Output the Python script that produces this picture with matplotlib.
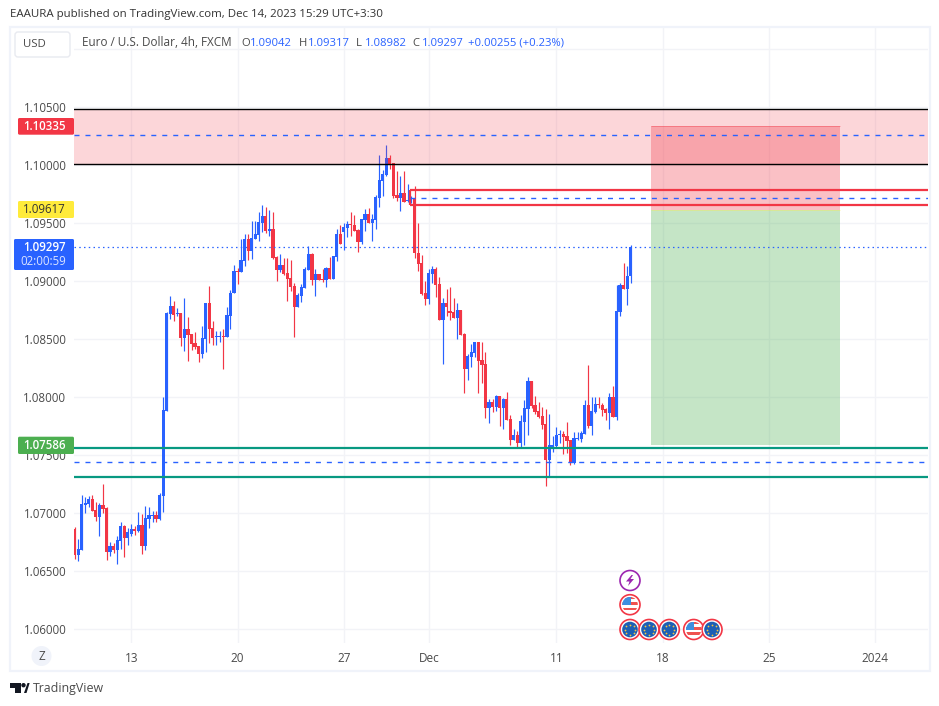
import numpy as np
import matplotlib
matplotlib.use("Agg")
import matplotlib.pyplot as plt
from matplotlib.patches import Rectangle, FancyBboxPatch, Circle, Polygon

plt.rcParams["font.family"] = ["Open Sans", "DejaVu Sans"]

W, H = 939, 706

# 4h candles, prices in 1e-5 units
opens = [106865,106640,106684,107072,107080,107120,107028,106968,107072,107046,
         106666,106718,106684,106761,106891,106787,106822,106865,106847,106899,
         106718,106951,106977,106985,106951,107149,107882,108718,108787,108718,
         108727,108511,108589,108546,108468,108442,108373,108503,108813,108597,
         108517,108520,108528,108520,108704,108896,109089,109080,109175,109365,
         109261,109365,109399,109502,109563,109434,109451,109209,109097,109140,
         109071,109028,108959,108778,108873,108942,109097,109235,109011,109063,
         109020,109011,109115,109020,109209,109408,109425,109459,109494,109485,
         109442,109339,109528,109580,109502,109528,109718,109865,109916,110063,
         110020,109744,109718,109761,109692,109709,109718,109247,109158,108899,
         108847,109063,109106,108977,108666,108813,108744,108735,108684,108753,
         108546,108244,108347,108382,108477,108321,108287,107908,107959,107916,
         108011,107908,107985,107813,107632,107675,107606,107787,107899,108140,
         107933,107882,107839,107770,107459,107571,107580,107675,107683,107666,
         107632,107433,107640,107640,107683,107933,107752,107873,107942,107933,
         107899,107864,108002,107830,108735,108968,108933,109042]
highs = [106879,106778,107158,107143,107149,107158,107097,107089,107253,107054,
         106753,106744,106804,106925,106899,106873,106908,106891,107011,106994,
         107063,107054,107020,107020,107175,108003,108735,108873,108830,108770,
         108727,108856,108692,108546,108563,108442,108615,108813,108960,108658,
         108572,108572,108589,108778,108925,109140,109115,109365,109408,109408,
         109520,109520,109597,109658,109640,109615,109597,109218,109235,109201,
         109201,109184,108985,108899,108977,109123,109304,109244,109106,109063,
         109106,109123,109209,109218,109451,109485,109502,109520,109597,109571,
         109451,109537,109623,109632,109580,109744,110089,109959,110175,110089,
         110020,109951,109908,109951,109839,109735,109821,109503,109227,109003,
         109106,109132,109123,109037,108856,108934,108951,108856,108813,108753,
         108554,108373,108459,108477,108477,108477,108390,107985,107985,108020,
         108011,107994,108045,107847,107726,107709,107847,107976,108175,108140,
         108011,107959,107916,107899,107856,107666,107744,107718,107709,107787,
         107632,107701,107701,107709,107976,108278,108002,108002,108002,107951,
         107908,108037,108097,108968,108985,109158,109132,109317]
lows = [106609,106592,106684,107005,107057,107023,106934,106804,107003,106597,
        106632,106658,106563,106692,106623,106727,106804,106813,106839,106649,
        106684,106873,106925,106925,106942,107011,107882,108675,108658,108701,
        108442,108399,108313,108408,108416,108304,108339,108391,108468,108451,
        108451,108477,108244,108520,108592,108896,108977,109080,109132,109184,
        109192,109365,109347,109425,109416,109390,109192,109002,109080,109054,
        108830,108916,108520,108778,108821,108942,109097,108968,108873,109011,
        108994,108951,109020,109020,109175,109321,109270,109382,109390,109434,
        109252,109321,109434,109502,109347,109451,109640,109735,109908,109968,
        109718,109692,109606,109684,109684,109672,109201,109089,108882,108796,
        108804,108985,108865,108666,108287,108701,108666,108684,108503,108537,
        108037,108149,108261,108347,108037,108123,107821,107778,107873,107882,
        107752,107726,107804,107589,107632,107571,107571,107589,107675,107908,
        107856,107821,107726,107235,107321,107528,107571,107606,107511,107520,
        107416,107425,107632,107614,107683,107735,107675,107864,107908,107839,
        107804,107726,107830,107804,108701,108933,108795,108982]
closes = [106640,106689,107080,107086,107120,107023,106968,107072,107037,106666,
          106718,106684,106770,106891,106787,106839,106862,106847,106899,106718,
          106959,106985,106985,106951,107158,107891,108727,108787,108709,108727,
          108511,108589,108537,108459,108434,108373,108511,108813,108589,108511,
          108528,108528,108520,108709,108896,109089,109080,109184,109365,109261,
          109373,109408,109511,109563,109434,109451,109201,109097,109140,109063,
          109020,108951,108778,108882,108951,109106,109235,109011,109063,109011,
          109011,109115,109020,109218,109408,109321,109468,109494,109485,109434,
          109339,109537,109580,109502,109537,109727,109873,109925,110063,110011,
          109735,109718,109761,109684,109701,109718,109247,109149,108890,108847,
          109071,109106,108968,108666,108813,108778,108727,108684,108753,108537,
          108244,108356,108390,108477,108313,108278,107908,107959,107916,108011,
          107908,107985,107804,107632,107675,107606,107795,107908,108140,107925,
          107873,107830,107761,107459,107589,107589,107675,107683,107657,107623,
          107442,107649,107649,107692,107933,107752,107882,107942,107933,107890,
          107864,108002,107830,108744,108968,108933,109045,109297]

# time axis
date_bars = [17, 47, 77, 101, 137, 167, 197, 227]
date_labels = ["13", "20", "27", "Dec", "11", "18", "25", "2024"]

# price axis
price_ticks = [1.06, 1.065, 1.07, 1.075, 1.08, 1.085, 1.09, 1.095, 1.10, 1.105, 1.11]
price_labels = ["1.06000", "1.06500", "1.07000", "1.07500", "1.08000", "1.08500",
                "1.09000", "1.09500", "1.10000", "1.10500", ""]

# drawings
supply_zone = (1.10009, 1.10483)
supply_mid = 1.10257
demand_zone = (1.07313, 1.07563)
demand_mid = 1.07440
box_zone = (1.09662, 1.09783)
box_mid = 1.09714
box_start = 95.7
stop_price = 1.10335
entry_price = 1.09617
target_price = 1.07586
last_price = 1.09297
pos_start, pos_end = 163.85, 217.2

UP = "#2962ff"
DOWN = "#f23645"
GRID = "#f2f3f7"
TEXT = "#4a4a4a"


def bar_at(px):
    return 17 + (px - 131.3) / 3.5417


def price_at(py):
    return 1.06 + (629.3 - py) / 11600


fig = plt.figure(figsize=(W / 100, H / 100), dpi=100, facecolor="white")

# chart pane, 74..928 x 28..643 in picture pixels
ax = fig.add_axes([74 / W, 1 - 643 / H, (928 - 74) / W, (643 - 28) / H])
ax.set_xlim(bar_at(74), bar_at(928))
ax.set_ylim(price_at(643), price_at(28))
for s in ax.spines.values():
    s.set_visible(False)
ax.set_axisbelow(True)
ax.grid(True, color=GRID, lw=1)
ax.set_xticks(date_bars)
ax.set_xticklabels(date_labels, fontsize=8.5, color=TEXT)
ax.set_yticks(price_ticks)
ax.set_yticklabels(price_labels, fontsize=8.3, color=TEXT)
ax.tick_params(axis="x", length=0, pad=6.2)
ax.tick_params(axis="y", length=0, pad=5.5)

# candles
o = np.array(opens) / 1e5
h = np.array(highs) / 1e5
l = np.array(lows) / 1e5
c = np.array(closes) / 1e5
bars = np.arange(1, len(o) + 1)
cols = np.where(c >= o, UP, DOWN)
ax.vlines(bars, l, h, colors=cols, lw=0.85, zorder=3)
ax.bar(bars, np.maximum(np.abs(c - o), 0.00009), bottom=np.minimum(o, c), width=0.9,
       color=cols, lw=0, zorder=4, antialiased=False)

# drawings sit on top of the candles
ax.axhspan(supply_zone[0], supply_zone[1], color=DOWN, alpha=0.2, lw=0, zorder=5)
ax.axhline(supply_zone[0], color="black", lw=1.0, zorder=6)
ax.axhline(supply_zone[1], color="black", lw=1.0, zorder=6)
dash = (0, (3.6, 4.3))
ax.axhline(supply_mid, color=UP, lw=1.0, ls=dash, zorder=8)

ax.axhline(demand_zone[0], color="#089981", lw=1.6, zorder=6)
ax.axhline(demand_zone[1], color="#089981", lw=1.6, zorder=6)
ax.axhline(demand_mid, color=UP, lw=1.0, ls=dash, zorder=6)

ax.hlines(box_zone, box_start, bar_at(928), color=DOWN, lw=1.6, zorder=7)
ax.vlines(box_start, box_zone[0], box_zone[1], color=DOWN, lw=1.6, zorder=7)
ax.hlines(box_mid, box_start, bar_at(928), color=UP, lw=1.0, ls=dash, zorder=7)

ax.axhline(last_price, color=UP, lw=0.9, ls=(0, (1.2, 2.6)), zorder=6)

# long/short position tool
ax.add_patch(Rectangle((pos_start, entry_price), pos_end - pos_start, stop_price - entry_price,
                       fc=DOWN, alpha=0.31, lw=0, zorder=5))
ax.add_patch(Rectangle((pos_start, target_price), pos_end - pos_start, entry_price - target_price,
                       fc="#4caf50", alpha=0.32, lw=0, zorder=5))
ax.hlines(stop_price, pos_start, pos_end, color=DOWN, lw=0.7, alpha=0.4, zorder=5)
ax.hlines(entry_price, pos_start, pos_end, color="#ffeb3b", lw=0.6, alpha=0.4, zorder=5)

# overlay in picture pixels for the chart furniture
ui = fig.add_axes([0, 0, 1, 1], facecolor="none")
ui.set_xlim(0, W)
ui.set_ylim(H, 0)
ui.axis("off")

ui.add_patch(Rectangle((10, 27), 920, 643.5, fc="none", ec="#f0f3fa", lw=1.6))

ui.text(10, 15, "EAAURA published on TradingView.com, Dec 14, 2023 15:29 UTC+3:30",
        fontsize=8.27, color="#333333", va="center")

# USD button
ui.add_patch(FancyBboxPatch((15, 32), 55, 25, boxstyle="round,pad=0,rounding_size=3",
                            fc="white", ec="#e8eaf0", lw=1))
ui.text(34, 44.5, "USD", fontsize=8.2, color=TEXT, ha="center", va="center")

# legend row
ui.text(82, 45.5, "Euro / U.S. Dollar, 4h, FXCM", fontsize=8.5, color=TEXT, va="baseline")
legend_parts = [("O", 241, TEXT), ("1.09042", 250, UP), ("H", 298.5, TEXT), ("1.09317", 308, UP),
                ("L", 356, TEXT), ("1.08982", 365, UP), ("C", 412, TEXT), ("1.09297", 422, UP),
                ("+0.00255 (+0.23%)", 468, UP)]
for txt, xp, col in legend_parts:
    ui.text(xp, 45.5, txt, fontsize=8.1, color=col, va="baseline")


def price_tag(x0, y0, y1, col, txt, tcol="white"):
    ui.add_patch(FancyBboxPatch((x0, y0), 74 - x0, y1 - y0, boxstyle="round,pad=0,rounding_size=1.5",
                                fc=col, lw=0))
    ui.text(66, (y0 + y1) / 2, txt, fontsize=8.3, color=tcol, ha="right", va="center",
            fontweight="semibold" if tcol == "white" else "normal")


price_tag(18, 118, 134.7, "#f23645", "1.10335")
price_tag(18, 201, 218, "#ffeb3b", "1.09617", "#333333")
price_tag(18, 436.7, 454, "#4caf50", "1.07586")
price_tag(14, 239, 270, UP, "")
ui.text(66, 247.5, "1.09297", fontsize=8.3, color="white", ha="right", va="center", fontweight="semibold")
ui.text(66, 261.5, "02:00:59", fontsize=8.3, color="#dbe4ff", ha="right", va="center")

# Z button
ui.add_patch(Circle((41.5, 656), 10, fc="#f0f3fa", lw=0))
ui.text(41.5, 656, "Z", fontsize=8.4, color=TEXT, ha="center", va="center")

# TradingView logo
ui.add_patch(Polygon([(10, 683), (21, 683), (21, 693), (15, 693), (15, 688), (10, 688)], fc="#131722", lw=0))
ui.add_patch(Circle((23.5, 685.2), 2.2, fc="#131722", lw=0))
ui.add_patch(Polygon([(24, 693), (27.5, 683), (29.5, 683), (29.5, 683.5), (26.5, 693)], fc="#131722", lw=0))
ui.text(33, 688.5, "TradingView", fontsize=8.95, color="#4a4a4a", va="center")


# event badges
def badge(cx, cy, ring):
    ui.add_patch(Circle((cx, cy), 10, fc="white", ec=ring, lw=1.2, zorder=5))


def eu_badge(cx, cy):
    badge(cx, cy, DOWN)
    ui.add_patch(Circle((cx, cy), 7.8, fc="#1d5fb4", lw=0, zorder=6))
    ang = np.linspace(0, 2 * np.pi, 8, endpoint=False)
    ui.scatter(cx + 5 * np.cos(ang), cy + 5 * np.sin(ang), s=1.6, color="#f5c542", lw=0, zorder=7)


def us_badge(cx, cy):
    badge(cx, cy, DOWN)
    clip = Circle((cx, cy), 7.8, transform=ui.transData)
    for i in range(6):
        col = "#ef5350" if i % 2 == 0 else "#ffffff"
        r = ui.add_patch(Rectangle((cx - 8, cy - 8 + i * 2.7), 16, 2.7, fc=col, lw=0, zorder=6))
        r.set_clip_path(clip)
    r = ui.add_patch(Rectangle((cx - 8, cy - 8), 8.5, 8, fc="#3d8fe0", lw=0, zorder=7))
    r.set_clip_path(clip)


def flash_badge(cx, cy):
    badge(cx, cy, "#9c27b0")
    ui.add_patch(Polygon([(cx + 1.5, cy - 5.5), (cx - 4, cy + 1), (cx - 0.5, cy + 1), (cx - 2, cy + 5.5),
                          (cx + 4, cy - 1.5), (cx + 0.5, cy - 1.5), (cx + 3, cy - 5.5)],
                         fc="#9c27b0", lw=0, zorder=6))


flash_badge(630, 580.5)
us_badge(630, 604.7)
eu_badge(630, 629.5)
eu_badge(649, 629.5)
eu_badge(669.3, 629.5)
us_badge(693.7, 629.5)
eu_badge(712, 629.5)

fig.savefig("out.png", dpi=100)
